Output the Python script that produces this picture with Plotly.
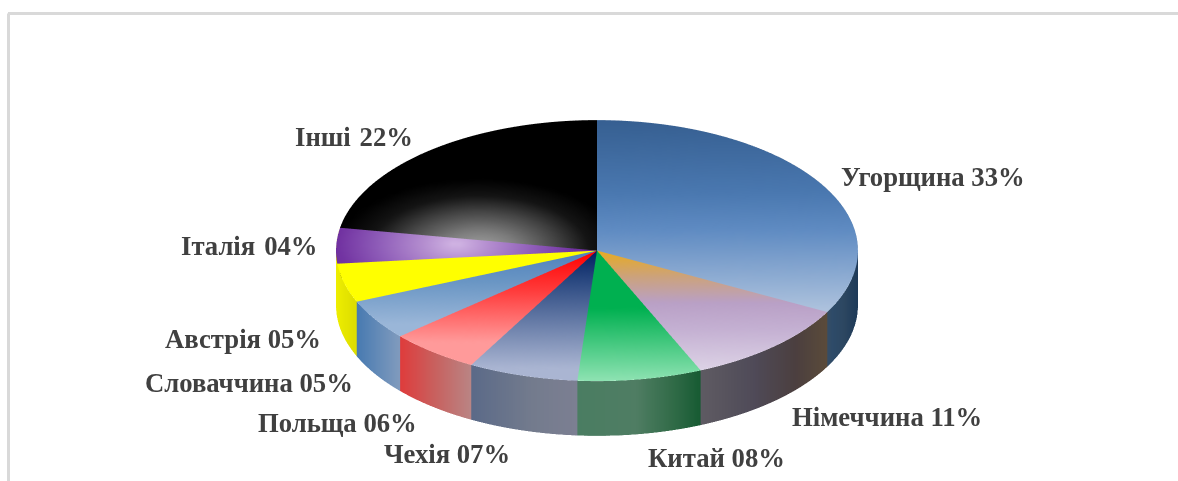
import math
import plotly.graph_objects as go

NAMES = ["Угорщина", "Німеччина", "Китай", "Чехія", "Польща", "Словаччина", "Австрія", "Італія", "Інші"]
VALUES = [32.8, 10.7, 7.7, 6.8, 5.6, 5.0, 4.8, 4.4, 22.2]

W, H = 1178, 481
DEPTH = 0.21 / math.cos(math.radians(30))
FONT_PX = 26.7
ZOOM = 2.61
# left edge, vertical centre of each label in page pixels
LABEL_XY = [(839, 177), (790, 417), (646, 458), (382, 454), (256, 423),
            (143, 383), (163, 339), (179, 246), (293, 137)]
LABEL_SEP = [" ", " ", " ", " ", " ", " ", " ", "\u00a0\u200a", "\u00a0\u200a"]

def h2r(c):
    return tuple(int(c[i:i + 2], 16) for i in (1, 3, 5))

def ramp(stops, t):
    if t <= stops[0][0]:
        return h2r(stops[0][1])
    for (a, ca), (b, cb) in zip(stops, stops[1:]):
        if t <= b:
            f = (t - a) / (b - a)
            ra, rb = h2r(ca), h2r(cb)
            return tuple(ra[i] + (rb[i] - ra[i]) * f for i in range(3))
    return h2r(stops[-1][1])

PURPLE_GLOW = (-0.54, 0.05)
BLACK_GLOW = (-0.45, 0.0)

# top-face colour ramps: t = (1 - y) / 2, top of pie = 0, bottom = 1
TOP = [
    [(0, "#365f91"), (0.28, "#4a78b0"), (0.42, "#5f8bc2"), (0.75, "#b3c6df")],
    [(0.5, "#e8ab1f"), (0.6, "#cca27c"), (0.7, "#b9a0c6"), (0.8, "#c4b0d2"), (0.96, "#ddd3e6")],
    [(0.5, "#00b050"), (0.72, "#00b050"), (1.0, "#8fe3b3")],
    [(0.5, "#002060"), (0.62, "#2c4a82"), (0.95, "#aab5d2")],
    [(0.5, "#ff0000"), (0.65, "#ff3a3a"), (0.85, "#ff9a9a")],
    [(0.5, "#4f81bd"), (0.62, "#6a96c4"), (0.78, "#9ab6d8")],
    [(0.5, "#ffff00"), (0.8, "#ffff00")],
    None,
    None,
]
PURPLE = [(0, "#d2b6e4"), (0.12, "#b58fd0"), (0.3, "#8e5cb8"), (0.46, "#7030a0")]
BLACK = [(0, "#a8a8a8"), (0.15, "#7c7c7c"), (0.3, "#444444"), (0.42, "#141414"), (0.55, "#000000")]

# wall ramps by screen x (-1 left .. 1 right)
WALL = [
    [(0.87, "#5a4d3e"), (0.885, "#2f4d6c"), (0.95, "#2c4660"), (1.0, "#1d3a58")],
    [(0.39, "#5f5c63"), (0.6, "#4f4a58"), (0.76, "#4b3f3f"), (0.875, "#5a4a3a")],
    [(-0.08, "#4a7d62"), (0.15, "#4f7d63"), (0.3, "#2f6a46"), (0.4, "#165a32")],
    [(-0.48, "#5b6a88"), (-0.25, "#737b8d"), (-0.08, "#7c7f92")],
    [(-0.76, "#e03a3a"), (-0.62, "#c8615f"), (-0.48, "#b98585")],
    [(-0.93, "#4478b0"), (-0.76, "#7f9abd")],
    [(-1.0, "#eeee00"), (-0.93, "#dede00")],
    [(-1.0, "#eeee00"), (-0.9, "#eeee00")],
    [(-1.0, "#000000"), (0, "#000000")],
]

def top_color(i, x, y):
    if i == 7:
        return ramp(PURPLE, math.hypot(x - PURPLE_GLOW[0], y - PURPLE_GLOW[1]))
    if i == 8:
        return ramp(BLACK, math.hypot(x - BLACK_GLOW[0], y - BLACK_GLOW[1]))
    return ramp(TOP[i], (1 - y) / 2)

def css(c):
    return "rgb(%d,%d,%d)" % tuple(round(v) for v in c)

fig = go.Figure()
total = sum(VALUES)
cum = 0
NR, NA = 36, 48
for i, v in enumerate(VALUES):
    a0 = 2 * math.pi * cum / total
    a1 = 2 * math.pi * (cum + v) / total
    cum += v
    xs, ys, zs, cols, I, J, K = [], [], [], [], [], [], []
    for ia in range(NA + 1):
        th = a0 + (a1 - a0) * ia / NA
        for ir in range(NR + 1):
            r = ir / NR
            x, y = r * math.sin(th), r * math.cos(th)
            xs.append(x); ys.append(y); zs.append(0.0)
            cols.append(css(top_color(i, x, y)))
    n = NR + 1
    for ia in range(NA):
        for ir in range(NR):
            p = ia * n + ir
            I += [p, p + 1]
            J += [p + 1, p + n + 1]
            K += [p + n, p + n]
    base = len(xs)
    for ia in range(NA + 1):
        th = a0 + (a1 - a0) * ia / NA
        x, y = math.sin(th), math.cos(th)
        c = css(ramp(WALL[i], x))
        xs += [x, x]; ys += [y, y]; zs += [0.0, -DEPTH]
        cols += [c, c]
    for ia in range(NA):
        p = base + 2 * ia
        I += [p, p + 1]
        J += [p + 1, p + 3]
        K += [p + 2, p + 2]
    fig.add_trace(go.Mesh3d(
        x=xs, y=ys, z=zs, i=I, j=J, k=K, vertexcolor=cols, name=NAMES[i],
        flatshading=False, hoverinfo="skip",
        lighting=dict(ambient=1, diffuse=0, specular=0, fresnel=0, roughness=1),
    ))

for name, val, sep, (px, py) in zip(NAMES, VALUES, LABEL_SEP, LABEL_XY):
    fig.add_annotation(
        xref="paper", yref="paper", x=px / W, y=1 - py / H, xanchor="left", yanchor="middle",
        text=f"<b>{name}{sep}{round(val):02d}%</b>", showarrow=False,
        font=dict(family="Liberation Serif", size=FONT_PX, color="#404040"),
    )

# frame
fig.add_shape(type="line", xref="paper", yref="paper", x0=8 / W, x1=1, y0=1 - 13.5 / H, y1=1 - 13.5 / H,
              line=dict(color="#d9d9d9", width=3))
fig.add_shape(type="line", xref="paper", yref="paper", x0=8.5 / W, x1=8.5 / W, y0=0, y1=1 - 13.5 / H,
              line=dict(color="#d9d9d9", width=3))

k = 6
phi = math.radians(30)
axis = dict(visible=False, showspikes=False)
fig.update_layout(
    width=W, height=H, margin=dict(l=0, r=0, t=0, b=0), paper_bgcolor="white", showlegend=False,
    scene=dict(
        domain=dict(x=[297 / W, 897 / W], y=[1 - 478 / H, 1 - 78 / H]),
        xaxis=dict(range=[-1, 1], **axis), yaxis=dict(range=[-1, 1], **axis),
        zaxis=dict(range=[-DEPTH, 0], **axis),
        aspectmode="manual", aspectratio=dict(x=ZOOM, y=ZOOM, z=ZOOM * DEPTH / 2),
        camera=dict(projection=dict(type="orthographic"),
                    eye=dict(x=0, y=-k * math.cos(phi), z=k * math.sin(phi)),
                    up=dict(x=0, y=0, z=1), center=dict(x=0, y=0, z=0)),
    ),
)
fig.write_html("out.html", config={"displayModeBar": False},
               post_script="document.body.style.margin='0';document.body.style.overflow='hidden';")
